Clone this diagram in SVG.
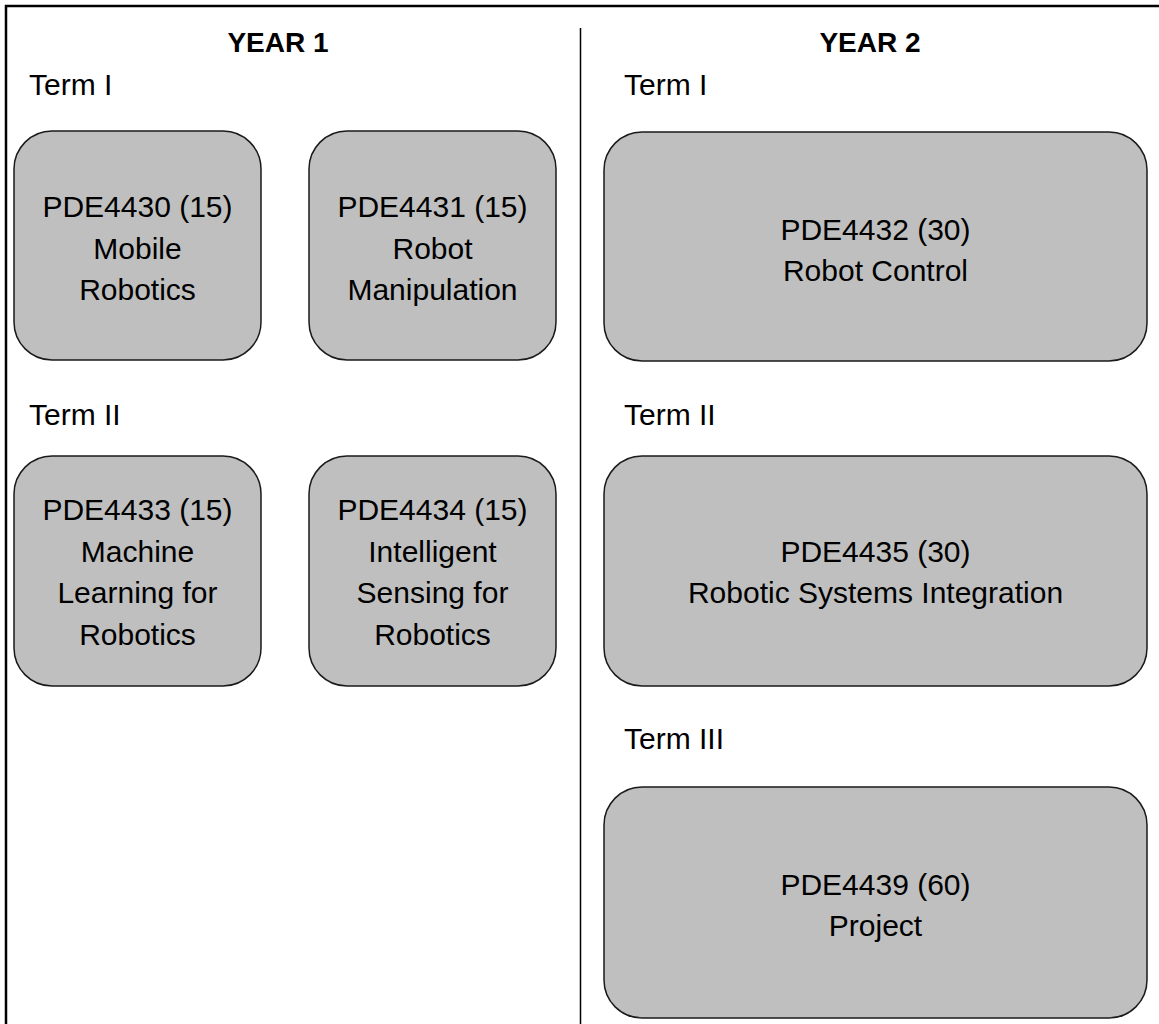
<svg xmlns="http://www.w3.org/2000/svg" width="1159" height="1024" viewBox="0 0 1159 1024">
<style>
.frame{fill:none;stroke:#000;stroke-width:2.5}
.div{stroke:#000;stroke-width:1.5}
.box{fill:#bfbfbf;stroke:#1a1a1a;stroke-width:1.5}
text{font-family:"Liberation Sans",Arial,sans-serif;fill:#000}
.yr{font-size:28px;font-weight:bold;text-anchor:middle}
.term{font-size:30px}
.lbl{font-size:30px;text-anchor:middle}
</style>
<rect width="1159" height="1024" fill="#fff"/>
<rect class="frame" x="6" y="6" width="1170" height="1040"/>
<g id="connectors">
<line class="div" x1="580.5" y1="28" x2="580.5" y2="1024"/>
</g>
<g id="headers">
<text class="yr" x="278" y="52">YEAR 1</text>
<text class="yr" x="870" y="52">YEAR 2</text>
<text class="term" x="29" y="95">Term I</text>
<text class="term" x="29" y="425">Term II</text>
<text class="term" x="624" y="95">Term I</text>
<text class="term" x="624" y="425">Term II</text>
<text class="term" x="624" y="749">Term III</text>
</g>
<g id="PDE4430">
<rect class="box" x="14" y="131" width="247" height="229" rx="38"/>
<text class="lbl" x="137.5" y="217">PDE4430 (15)</text>
<text class="lbl" x="137.5" y="258.5">Mobile</text>
<text class="lbl" x="137.5" y="300">Robotics</text>
</g>
<g id="PDE4431">
<rect class="box" x="309" y="131" width="247" height="229" rx="38"/>
<text class="lbl" x="432.5" y="217">PDE4431 (15)</text>
<text class="lbl" x="432.5" y="258.5">Robot</text>
<text class="lbl" x="432.5" y="300">Manipulation</text>
</g>
<g id="PDE4432">
<rect class="box" x="604" y="132" width="543" height="229" rx="38"/>
<text class="lbl" x="875.5" y="240">PDE4432 (30)</text>
<text class="lbl" x="875.5" y="281">Robot Control</text>
</g>
<g id="PDE4433">
<rect class="box" x="14" y="456" width="247" height="230" rx="38"/>
<text class="lbl" x="137.5" y="520">PDE4433 (15)</text>
<text class="lbl" x="137.5" y="561.5">Machine</text>
<text class="lbl" x="137.5" y="603">Learning for</text>
<text class="lbl" x="137.5" y="645">Robotics</text>
</g>
<g id="PDE4434">
<rect class="box" x="309" y="456" width="247" height="230" rx="38"/>
<text class="lbl" x="432.5" y="520">PDE4434 (15)</text>
<text class="lbl" x="432.5" y="561.5">Intelligent</text>
<text class="lbl" x="432.5" y="603">Sensing for</text>
<text class="lbl" x="432.5" y="645">Robotics</text>
</g>
<g id="PDE4435">
<rect class="box" x="604" y="456" width="543" height="230" rx="38"/>
<text class="lbl" x="875.5" y="562">PDE4435 (30)</text>
<text class="lbl" x="875.5" y="603">Robotic Systems Integration</text>
</g>
<g id="PDE4439">
<rect class="box" x="604" y="787" width="543" height="231" rx="38"/>
<text class="lbl" x="875.5" y="895">PDE4439 (60)</text>
<text class="lbl" x="875.5" y="936">Project</text>
</g>
</svg>
